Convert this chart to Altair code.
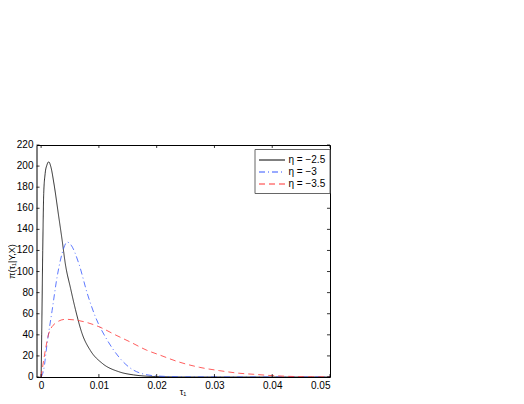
import altair as alt
import pandas as pd

# eta = -2.5 (black solid)
x_a = [0, 0.0001, 0.00028, 0.00045, 0.0007, 0.001, 0.00132, 0.0017, 0.0022, 0.00305, 0.00363,
       0.0042, 0.0051, 0.00594, 0.0071, 0.00854, 0.01057, 0.01345, 0.016, 0.02, 0.025, 0.05]
y_a = [0, 40, 120, 174, 193, 201, 204, 199, 184, 152, 130,
       107, 84, 64, 41, 25, 13, 5, 2, 0.4, 0.05, 0]
# eta = -3 (blue dash-dot)
x_b = [0, 0.00045, 0.00104, 0.0019, 0.00277, 0.00335, 0.0039, 0.0045, 0.0052, 0.0065, 0.008,
       0.0094, 0.01144, 0.01345, 0.0153, 0.017, 0.02, 0.025, 0.05]
y_b = [0, 7, 32, 63, 95, 111, 122, 128, 125, 108, 79,
       57, 35, 19, 9, 4, 1, 0.1, 0]
# eta = -3.5 (red dashed)
x_c = [0, 0.00075, 0.00132, 0.00248, 0.0042, 0.00594, 0.01, 0.0129, 0.0155, 0.0182, 0.0205,
       0.0237, 0.0274, 0.0309, 0.0344, 0.0367, 0.0401, 0.0436, 0.047, 0.05]
y_c = [0, 26, 41, 51, 54.7, 54, 47.7, 39.8, 33, 25.6, 20.9,
       14.5, 9.2, 6, 3.5, 2.6, 1.3, 0.5, 0.2, 0.1]

labels = ["η = −2.5", "η = −3", "η = −3.5"]
colors = ["#000000", "#3355ff", "#ff3333"]
dashes = [[1, 0], [6, 3, 1, 3], [6, 4]]

x_ticks = [0, 0.01, 0.02, 0.03, 0.04, 0.05]
y_ticks = list(range(0, 221, 20))
x_min, x_max = -0.0008, 0.05
y_min, y_max = 0, 220

rows = []
for lab, xs_, ys_ in zip(labels, [x_a, x_b, x_c], [y_a, y_b, y_c]):
    for i, (xv, yv) in enumerate(zip(xs_, ys_)):
        rows.append({"tau": xv, "dens": yv, "series": lab, "order": i})
df = pd.DataFrame(rows)

font = "Liberation Sans"
xs = alt.Scale(domain=[x_min, x_max], nice=False, zero=False)
ys = alt.Scale(domain=[y_min, y_max], nice=False)

x_axis = alt.Axis(values=x_ticks, title="τ₁",
                  labelExpr="datum.value == 0 ? '0' : format(datum.value, '.2~f')",
                  grid=False, ticks=False, domain=False, labelPadding=3, labelOverlap=False,
                  titleX=146, titleY=10, titleBaseline="top", titleAnchor="middle",
                  labelFont=font, labelFontSize=10, labelColor="#000",
                  titleFont=font, titleFontSize=9, titleFontWeight="normal", titleColor="#000")
y_axis = alt.Axis(values=y_ticks, title="π(τ₁|Y,X)", grid=False, ticks=False, domain=False,
                  labels=False,
                  titleX=-25, titleY=116, titleAngle=-90, titleBaseline="middle", titleAlign="center",
                  titleFont=font, titleFontSize=9, titleFontWeight="normal", titleColor="#000")

lines = alt.Chart(df).mark_line(strokeWidth=0.8, interpolate="monotone", clip=True).encode(
    x=alt.X("tau:Q", scale=xs, axis=x_axis),
    y=alt.Y("dens:Q", scale=ys, axis=y_axis),
    color=alt.Color("series:N", scale=alt.Scale(domain=labels, range=colors),
                    legend=alt.Legend(title=None, orient="none", legendX=218, legendY=4,
                                      symbolType="M-1,0H3", symbolSize=169, symbolStrokeWidth=1,
                                      labelFont=font, labelFontSize=10, labelColor="#000",
                                      strokeColor="#666", fillColor="white", padding=4,
                                      rowPadding=0, labelOffset=16)),
    strokeDash=alt.StrokeDash("series:N", scale=alt.Scale(domain=labels, range=dashes), legend=None),
    order="order:Q",
)

tick_len_y = 2.8
tick_len_x = 0.00052
bx = pd.DataFrame({"v": x_ticks})
by = pd.DataFrame({"v": y_ticks})
tb = alt.Chart(bx).mark_rule(color="#000", strokeWidth=0.8).encode(
    x=alt.X("v:Q", scale=xs, axis=x_axis), y=alt.Y(datum=y_min), y2=alt.datum(y_min + tick_len_y))
tt = alt.Chart(bx).mark_rule(color="#000", strokeWidth=0.8).encode(
    x=alt.X("v:Q", scale=xs, axis=x_axis), y=alt.Y(datum=y_max), y2=alt.datum(y_max - tick_len_y))
tl = alt.Chart(by).mark_rule(color="#000", strokeWidth=0.8).encode(
    y=alt.Y("v:Q", scale=ys, axis=y_axis), x=alt.X(datum=x_min), x2=alt.datum(x_min + tick_len_x))
tr = alt.Chart(by).mark_rule(color="#000", strokeWidth=0.8).encode(
    y=alt.Y("v:Q", scale=ys, axis=y_axis), x=alt.X(datum=x_max), x2=alt.datum(x_max - tick_len_x))
ylab = alt.Chart(by).mark_text(align="right", baseline="middle", dx=-3, font=font,
                               fontSize=10, color="#000").encode(
    y=alt.Y("v:Q", scale=ys, axis=y_axis), x=alt.X(datum=x_min), text=alt.Text("v:Q", format="d"))

chart = alt.layer(lines, tb, tt, tl, tr, ylab).properties(
    width=293.5, height=232,
    autosize=alt.AutoSizeParams(type="none"),
    padding={"left": 28.5, "top": 137, "right": 180, "bottom": 19},
    background="white",
).configure_view(stroke="#000", strokeWidth=1)

chart.save("out.html", embed_options={"renderer": "svg", "actions": False})
